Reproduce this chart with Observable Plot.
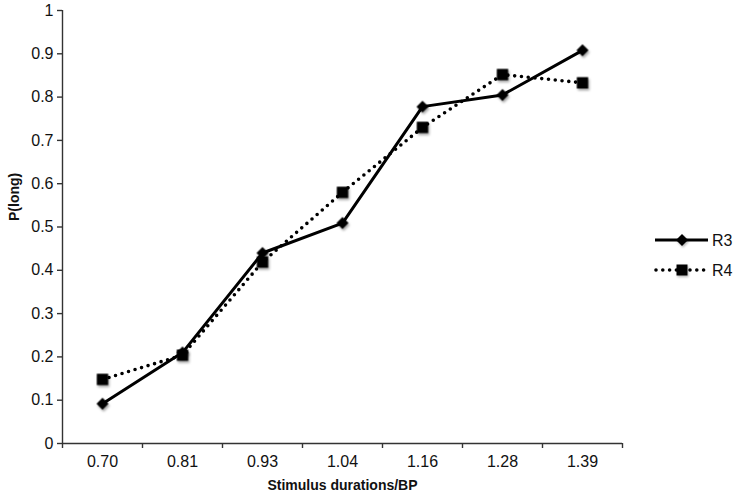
<!DOCTYPE html>
<html>
<head>
<meta charset="utf-8">
<script src="https://cdn.jsdelivr.net/npm/d3@7"></script>
<script src="https://cdn.jsdelivr.net/npm/@observablehq/plot@0.6"></script>
<style>
  html, body { margin: 0; padding: 0; background: #fff; }
  #wrap { position: relative; width: 738px; height: 497px; font-family: "Liberation Sans", Arial, sans-serif; }
  #legend { position: absolute; left: 650px; top: 225px; }
  #wrap svg g[aria-label$="tick label"], #wrap svg g[aria-label$="tick label"] text { font-size: 16px !important; }
</style>
</head>
<body>
<div id="wrap"></div>
<script>
// ---- data ----
const categories = ["0.70", "0.81", "0.93", "1.04", "1.16", "1.28", "1.39"];
const r3 = [0.092, 0.21, 0.44, 0.509, 0.778, 0.805, 0.908];
const r4 = [0.148, 0.204, 0.419, 0.580, 0.730, 0.852, 0.833];
const yTicks = [0, 0.1, 0.2, 0.3, 0.4, 0.5, 0.6, 0.7, 0.8, 0.9, 1];
const seriesNames = ["R3", "R4"];
const xTitle = "Stimulus durations/BP";
const yTitle = "P(long)";

const rows = categories.map((c, i) => ({i, cat: c, r3: r3[i], r4: r4[i]}));
const xDomain = [-0.5, categories.length - 0.5];
const bandEdges = d3.range(xDomain[0], xDomain[1] + 0.001, 1);
const bandCenters = d3.range(categories.length);

const axisColor = "#333";
const textColor = "#111";

const plot = Plot.plot({
  width: 738,
  height: 497,
  marginTop: 10,
  marginRight: 116,
  marginBottom: 54,
  marginLeft: 62,
  style: {fontFamily: "\"Liberation Sans\", Arial, sans-serif", fontSize: "16px", color: textColor, background: "#fff"},
  x: {type: "linear", domain: xDomain, axis: null},
  y: {domain: [0, 1], axis: null},
  marks: [
    Plot.ruleY([0], {stroke: axisColor, strokeWidth: 1.4}),
    Plot.ruleX([xDomain[0]], {stroke: axisColor, strokeWidth: 1.4}),
    Plot.axisX(bandEdges, {tickSize: 5, tickFormat: () => "", stroke: axisColor, strokeWidth: 1.4, label: null}),
    Plot.axisX(bandCenters, {tickSize: 0, tickPadding: 12, tickFormat: i => categories[i], fill: textColor, fontSize: 16, label: null}),
    Plot.axisY(yTicks, {tickSize: 5, tickPadding: 4, tickFormat: d => String(d), stroke: axisColor, strokeWidth: 1.4, fill: textColor, fontSize: 16, label: null}),
    Plot.text([xTitle], {frameAnchor: "bottom", dy: 46, text: d => d, fontWeight: "bold", fontSize: 14, fill: textColor}),
    Plot.text([yTitle], {frameAnchor: "left", dx: -48, dy: -6, rotate: -90, text: d => d, fontWeight: "bold", fontSize: 14, fill: textColor}),
    Plot.line(rows, {x: "i", y: "r4", stroke: "#000", strokeWidth: 3.6, strokeDasharray: "0 6.8", strokeLinecap: "round"}),
    Plot.line(rows, {x: "i", y: "r3", stroke: "#000", strokeWidth: 3}),
    Plot.dot(rows, {x: "i", y: "r3", symbol: "diamond2", r: 5.4, fill: "#000", stroke: "none"}),
    Plot.dot(rows, {x: "i", y: "r4", symbol: "square", r: 6.4, fill: "#000", stroke: "none"})
  ]
});

const ns = "http://www.w3.org/2000/svg";
const defs = document.createElementNS(ns, "defs");
defs.innerHTML = '<filter id="sh" x="-50%" y="-50%" width="200%" height="200%"><feDropShadow dx="1.2" dy="2" stdDeviation="1.3" flood-color="#000" flood-opacity="0.35"/></filter>';
plot.insertBefore(defs, plot.firstChild);
plot.querySelectorAll('g[aria-label="dot"]').forEach(g => g.setAttribute("filter", "url(#sh)"));

const wrap = document.getElementById("wrap");
wrap.appendChild(plot);

const legend = document.createElement("div");
legend.id = "legend";
const sym3 = d3.symbol(d3.symbolDiamond2, Math.PI * 5.4 * 5.4)();
const sym4 = d3.symbol(d3.symbolSquare, Math.PI * 6.2 * 6.2)();
legend.innerHTML =
  '<svg width="88" height="60" style="overflow:visible;font-family:\'Liberation Sans\',Arial,sans-serif">' +
  '<defs><filter id="sh2" x="-50%" y="-50%" width="200%" height="200%"><feDropShadow dx="1" dy="1.5" stdDeviation="1" flood-color="#000" flood-opacity="0.3"/></filter></defs>' +
  '<line x1="5" x2="58" y1="15" y2="15" stroke="#000" stroke-width="3"/>' +
  '<path d="' + sym3 + '" transform="translate(32,15)" fill="#000" filter="url(#sh2)"/>' +
  '<text x="62" y="15" dy="0.35em" font-size="16" fill="' + textColor + '">' + seriesNames[0] + '</text>' +
  '<line x1="6" x2="58" y1="45" y2="45" stroke="#000" stroke-width="3.6" stroke-dasharray="0 6.8" stroke-linecap="round"/>' +
  '<path d="' + sym4 + '" transform="translate(32,45)" fill="#000" filter="url(#sh2)"/>' +
  '<text x="62" y="45" dy="0.35em" font-size="16" fill="' + textColor + '">' + seriesNames[1] + '</text>' +
  '</svg>';
wrap.appendChild(legend);
</script>
</body>
</html>
